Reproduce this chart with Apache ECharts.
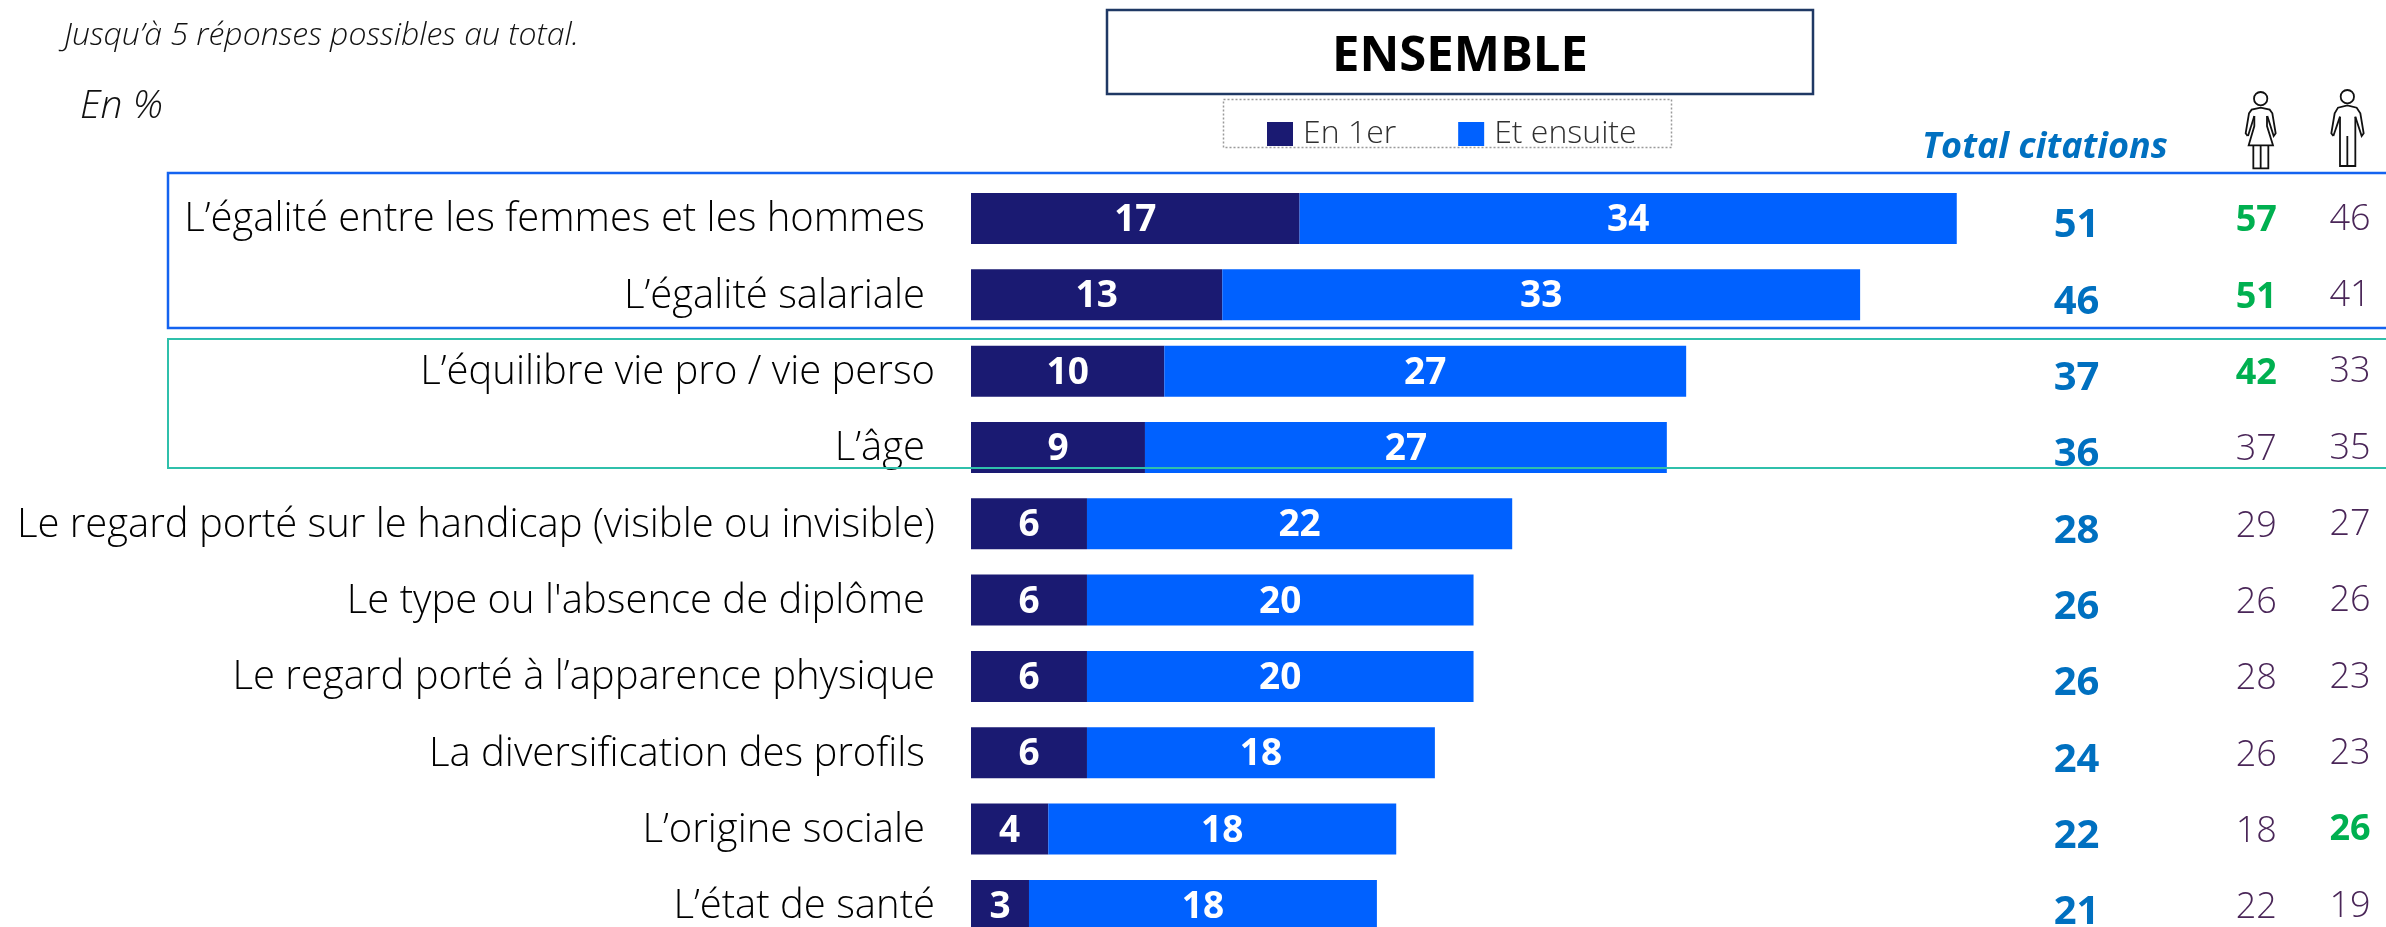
<!DOCTYPE html>
<html><head><meta charset="utf-8">
<style>html,body{margin:0;padding:0;background:#fff;overflow:hidden}#c{width:2386px;height:927px}</style>
<script src="https://cdn.jsdelivr.net/npm/echarts@6/dist/echarts.min.js"></script>
</head><body><div id="c"></div>
<script>
const categories = ["L’égalité entre les femmes et les hommes","L’égalité salariale","L’équilibre vie pro / vie perso","L’âge","Le regard porté sur le handicap (visible ou invisible)","Le type ou l'absence de diplôme","Le regard porté à l’apparence physique","La diversification des profils","L’origine sociale","L’état de santé"];
const enPremier = [17,13,10,9,6,6,6,6,4,3];
const etEnsuite = [34,33,27,27,22,20,20,18,18,18];
const totalCitations = [51,46,37,36,28,26,26,24,22,21];
const femmes = [57,51,42,37,29,26,28,26,18,22];
const hommes = [46,41,33,35,27,26,23,23,26,19];
const femmesSignif = [0,1,2];
const hommesSignif = [8];
const labelsShifted = [0,1,3,5,7,8];   // labels set slightly further from the bars
const FONT = '"Open Sans"';
const PURPLE='#4a2658', GREEN='#00b050', TOTAL='#0070c0', NAVY='#1a1a72', BLUE='#0061ff';

function col(name, x, vals, size, color, dy, sig){
  return {type:'scatter',name,silent:true,symbolSize:1,itemStyle:{color:'transparent',opacity:1},legendHoverLink:false,
    data:vals.map((v,i)=>{
      const hi=sig&&sig.includes(i);
      return {value:[x,i,v],label:{color:hi?GREEN:color,fontWeight:(hi||!sig)?'bold':300}};
    }),
    label:{show:true,opacity:1,position:'inside',offset:[0,dy],fontFamily:FONT,fontSize:size,formatter:p=>String(p.value[2])}};
}
function txt(text,x,y,size,extra){
  return {type:'text',x,y,z:20,style:Object.assign({text,fontFamily:FONT,fontSize:size,fill:'#000',textAlign:'left',textVerticalAlign:'middle'},extra||{})};
}
const iconStyle={fill:'none',stroke:'#111',lineWidth:1.8};
function line(pts){
  return {type:'polyline',z:20,shape:{points:pts.map(p=>[2200+p[0]/3,70+p[1]/3])},style:iconStyle};
}
function head(x,y,r){
  return {type:'circle',z:20,shape:{cx:2200+x/3,cy:70+y/3,r:r/3},style:iconStyle};
}
const womanIcon=[head(182,86,20),
  line([[143,198],[137,190],[147,130],[155,119],[182,113],[209,119],[217,130],[227,190],[221,198],[202,138]]),
  line([[163,138],[144,198]]),
  line([[163,138],[163,168],[146,226],[219,226],[201,168],[201,138]]),
  line([[160,226],[160,295],[205,295],[205,226]]),
  line([[182,226],[182,295]])];
const manIcon=[head(442,80,20),
  line([[400,198],[394,190],[404,130],[414,113],[442,106],[470,113],[481,130],[491,190],[485,198],[466,140]]),
  line([[420,140],[400,198]]),
  line([[420,140],[420,288],[466,288],[466,140]]),
  line([[442,198],[442,288]])];

const barLabel={show:true,position:'inside',offset:[0,2],color:'#fff',fontFamily:FONT,fontWeight:'bold',fontSize:37};
const chart=echarts.init(document.getElementById('c'),null,{renderer:'canvas'});
chart.setOption({
  animation:false,backgroundColor:'#fff',
  grid:{left:971,top:180.3,width:1411,height:763.3,containLabel:false,outerBoundsMode:'none'},
  xAxis:{type:'value',min:0,max:73,show:false},
  yAxis:{type:'category',inverse:true,data:categories,
    axisLine:{show:false},axisTick:{show:false},splitLine:{show:false},
    axisLabel:{margin:36,interval:0,
      formatter:(v,i)=>(labelsShifted.includes(i)?'{s|':'{n|')+v+'}',
      rich:{
        n:{fontFamily:FONT,fontSize:40,fontWeight:300,color:'#000',padding:[3,0,0,0]},
        s:{fontFamily:FONT,fontSize:40,fontWeight:300,color:'#000',padding:[3,10,0,0]}
      }}},
  legend:{left:1267-8,top:114,padding:[4,8],itemWidth:26,itemHeight:24,itemGap:62,selectedMode:false,
    icon:'rect',data:['En 1er','Et ensuite'],
    textStyle:{fontFamily:FONT,fontSize:32,fontWeight:300,color:'#303030',padding:[0,0,0,5]}},
  series:[
    {type:'bar',name:'En 1er',stack:'a',data:enPremier,barWidth:51,itemStyle:{color:NAVY},silent:true,label:barLabel},
    {type:'bar',name:'Et ensuite',stack:'a',data:etEnsuite,barWidth:51,itemStyle:{color:BLUE},silent:true,label:barLabel},
    col('Total citations',57.2,totalCitations,40,TOTAL,7.5,null),
    col('Femmes',66.5,femmes,36,PURPLE,2.5,femmesSignif),
    col('Hommes',71.35,hommes,36,PURPLE,1,hommesSignif)
  ],
  graphic:[
    {type:'rect',z:15,shape:{x:168,y:173,width:2300,height:155},style:{fill:'none',stroke:'#1463f0',lineWidth:2.5}},
    {type:'rect',z:15,shape:{x:168,y:339,width:2300,height:129},style:{fill:'none',stroke:'#2fc0ab',lineWidth:2}},
    {type:'rect',z:15,shape:{x:1107,y:10,width:706,height:84},style:{fill:'none',stroke:'#1f3864',lineWidth:2.5}},
    {type:'rect',z:15,shape:{x:1223.5,y:99.5,width:448,height:48},style:{fill:'none',stroke:'#9a9a9a',lineWidth:1.5,lineDash:[2,2]}},
    txt('ENSEMBLE',1460,57,49,{fontWeight:'bold',textAlign:'center'}),
    txt('Jusqu’à 5 réponses possibles au total.',64,36,32,{fontStyle:'italic',fontWeight:300,fill:'#111'}),
    txt('En %',80,107,39,{fontStyle:'italic',fontWeight:300,fill:'#111'}),
    txt('Total citations',1922,148,36,{fontStyle:'italic',fontWeight:'bold',fill:TOTAL})
  ].concat(womanIcon,manIcon)
});
</script></body></html>
